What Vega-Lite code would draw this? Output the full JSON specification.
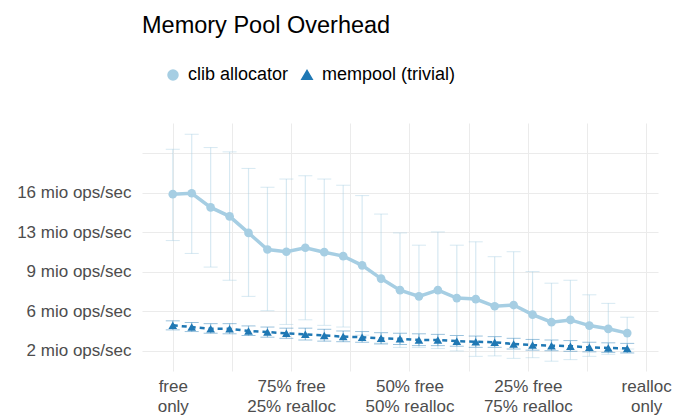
{
  "$schema": "https://vega.github.io/schema/vega-lite/v6.json",
  "autosize": {"type": "none"},
  "width": 516,
  "height": 248,
  "padding": {"left": 142, "top": 123, "right": 16, "bottom": 45},
  "background": "white",
  "title": {"text": "Memory Pool Overhead", "anchor": "start", "frame": "group", "offset": 29, "fontSize": 23.5, "fontWeight": "normal", "font": "Liberation Sans", "color": "#000000"},
  "config": {
    "view": {"stroke": null},
    "font": "Liberation Sans",
    "axis": {"grid": true, "gridColor": "#ebebeb", "gridWidth": 1, "ticks": false, "domain": false, "labelColor": "#4d4d4d", "labelFont": "Liberation Sans", "labelFontSize": 17, "labelOverlap": false}
  },
  "data": {"values": [
    {"series": "clib allocator", "x": 0.00, "mean": 15.89, "lower": 11.77, "upper": 19.87},
    {"series": "clib allocator", "x": 0.04, "mean": 15.97, "lower": 10.63, "upper": 21.20},
    {"series": "clib allocator", "x": 0.08, "mean": 14.71, "lower": 9.42, "upper": 20.02},
    {"series": "clib allocator", "x": 0.12, "mean": 13.92, "lower": 8.25, "upper": 19.64},
    {"series": "clib allocator", "x": 0.16, "mean": 12.45, "lower": 6.82, "upper": 18.17},
    {"series": "clib allocator", "x": 0.20, "mean": 10.98, "lower": 5.55, "upper": 16.50},
    {"series": "clib allocator", "x": 0.24, "mean": 10.78, "lower": 4.33, "upper": 17.23},
    {"series": "clib allocator", "x": 0.28, "mean": 11.13, "lower": 4.74, "upper": 17.52},
    {"series": "clib allocator", "x": 0.32, "mean": 10.74, "lower": 4.25, "upper": 17.23},
    {"series": "clib allocator", "x": 0.36, "mean": 10.39, "lower": 4.10, "upper": 16.68},
    {"series": "clib allocator", "x": 0.40, "mean": 9.57, "lower": 3.38, "upper": 15.76},
    {"series": "clib allocator", "x": 0.44, "mean": 8.40, "lower": 2.68, "upper": 14.12},
    {"series": "clib allocator", "x": 0.48, "mean": 7.37, "lower": 2.29, "upper": 12.45},
    {"series": "clib allocator", "x": 0.52, "mean": 6.82, "lower": 2.28, "upper": 11.36},
    {"series": "clib allocator", "x": 0.56, "mean": 7.37, "lower": 2.20, "upper": 12.54},
    {"series": "clib allocator", "x": 0.60, "mean": 6.67, "lower": 1.98, "upper": 11.36},
    {"series": "clib allocator", "x": 0.64, "mean": 6.58, "lower": 1.50, "upper": 11.66},
    {"series": "clib allocator", "x": 0.68, "mean": 5.94, "lower": 1.54, "upper": 10.34},
    {"series": "clib allocator", "x": 0.72, "mean": 6.05, "lower": 1.32, "upper": 10.78},
    {"series": "clib allocator", "x": 0.76, "mean": 5.20, "lower": 1.38, "upper": 9.02},
    {"series": "clib allocator", "x": 0.80, "mean": 4.53, "lower": 1.07, "upper": 7.99},
    {"series": "clib allocator", "x": 0.84, "mean": 4.73, "lower": 1.21, "upper": 8.25},
    {"series": "clib allocator", "x": 0.88, "mean": 4.23, "lower": 1.50, "upper": 6.96},
    {"series": "clib allocator", "x": 0.92, "mean": 3.94, "lower": 1.68, "upper": 6.20},
    {"series": "clib allocator", "x": 0.96, "mean": 3.56, "lower": 2.15, "upper": 4.97},
    {"series": "mempool (trivial)", "x": 0.00, "mean": 4.25, "lower": 3.85, "upper": 4.65},
    {"series": "mempool (trivial)", "x": 0.04, "mean": 4.10, "lower": 3.70, "upper": 4.50},
    {"series": "mempool (trivial)", "x": 0.08, "mean": 3.95, "lower": 3.55, "upper": 4.40},
    {"series": "mempool (trivial)", "x": 0.12, "mean": 3.95, "lower": 3.50, "upper": 4.40},
    {"series": "mempool (trivial)", "x": 0.16, "mean": 3.75, "lower": 3.35, "upper": 4.20},
    {"series": "mempool (trivial)", "x": 0.20, "mean": 3.65, "lower": 3.20, "upper": 4.10},
    {"series": "mempool (trivial)", "x": 0.24, "mean": 3.55, "lower": 3.10, "upper": 4.00},
    {"series": "mempool (trivial)", "x": 0.28, "mean": 3.45, "lower": 2.95, "upper": 4.00},
    {"series": "mempool (trivial)", "x": 0.32, "mean": 3.35, "lower": 2.85, "upper": 3.90},
    {"series": "mempool (trivial)", "x": 0.36, "mean": 3.25, "lower": 2.80, "upper": 3.75},
    {"series": "mempool (trivial)", "x": 0.40, "mean": 3.20, "lower": 2.75, "upper": 3.70},
    {"series": "mempool (trivial)", "x": 0.44, "mean": 3.10, "lower": 2.60, "upper": 3.60},
    {"series": "mempool (trivial)", "x": 0.48, "mean": 3.05, "lower": 2.55, "upper": 3.55},
    {"series": "mempool (trivial)", "x": 0.52, "mean": 2.95, "lower": 2.45, "upper": 3.50},
    {"series": "mempool (trivial)", "x": 0.56, "mean": 2.95, "lower": 2.45, "upper": 3.45},
    {"series": "mempool (trivial)", "x": 0.60, "mean": 2.85, "lower": 2.40, "upper": 3.35},
    {"series": "mempool (trivial)", "x": 0.64, "mean": 2.80, "lower": 2.30, "upper": 3.30},
    {"series": "mempool (trivial)", "x": 0.68, "mean": 2.75, "lower": 2.30, "upper": 3.25},
    {"series": "mempool (trivial)", "x": 0.72, "mean": 2.60, "lower": 2.15, "upper": 3.10},
    {"series": "mempool (trivial)", "x": 0.76, "mean": 2.50, "lower": 2.05, "upper": 3.00},
    {"series": "mempool (trivial)", "x": 0.80, "mean": 2.45, "lower": 2.00, "upper": 2.95},
    {"series": "mempool (trivial)", "x": 0.84, "mean": 2.40, "lower": 1.95, "upper": 2.90},
    {"series": "mempool (trivial)", "x": 0.88, "mean": 2.30, "lower": 1.90, "upper": 2.75},
    {"series": "mempool (trivial)", "x": 0.92, "mean": 2.25, "lower": 1.85, "upper": 2.70},
    {"series": "mempool (trivial)", "x": 0.96, "mean": 2.20, "lower": 1.80, "upper": 2.65}
  ]},
  "encoding": {
    "x": {"field": "x", "type": "quantitative", "scale": {"domain": [-0.065, 1.025], "nice": false, "zero": false},
      "axis": {"title": null, "labelOverlap": false, "values": [0, 0.125, 0.25, 0.375, 0.5, 0.625, 0.75, 0.875, 1], "labelPadding": 7, "labelLineHeight": 20, "labelBaseline": "top",
        "labelExpr": "datum.value == 0 ? ['free', 'only'] : datum.value == 0.25 ? ['75% free', '25% realloc'] : datum.value == 0.5 ? ['50% free', '50% realloc'] : datum.value == 0.75 ? ['25% free', '75% realloc'] : datum.value == 1 ? ['realloc', 'only'] : ''"}},
    "color": {"field": "series", "type": "nominal", "scale": {"domain": ["clib allocator", "mempool (trivial)"], "range": ["#A6CEE3", "#1F78B4"]},
      "legend": {"orient": "none", "legendX": 22, "legendY": -57, "direction": "horizontal", "title": null, "labelFont": "Liberation Sans", "labelFontSize": 18, "labelColor": "#000000", "symbolSize": 90, "symbolOpacity": 1, "symbolStrokeWidth": 2, "columnPadding": 9, "labelOffset": 6}}
  },
  "layer": [
    {
      "mark": {"type": "errorbar", "opacity": 0.45, "ticks": {"size": 14}, "rule": {"strokeWidth": 1.2}},
      "encoding": {
        "y": {"field": "lower", "type": "quantitative", "scale": {"domain": [0.2, 22.2], "nice": false, "zero": false},
          "axis": {"title": null, "labelOverlap": false, "labelSeparation": 0, "values": [2, 3.75, 5.5, 7.25, 9, 10.75, 12.5, 14.25, 16, 17.75, 19.5], "labelPadding": 11,
            "labelExpr": "datum.value == 2 ? '2 mio ops/sec' : datum.value == 5.5 ? '6 mio ops/sec' : datum.value == 9 ? '9 mio ops/sec' : datum.value == 12.5 ? '13 mio ops/sec' : datum.value == 16 ? '16 mio ops/sec' : ''"}},
        "y2": {"field": "upper"}
      }
    },
    {
      "transform": [{"filter": "datum.series === 'clib allocator'"}],
      "mark": {"type": "line", "strokeWidth": 3.5},
      "encoding": {
        "y": {"field": "mean", "type": "quantitative"}
      }
    },
    {
      "transform": [{"filter": "datum.series === 'mempool (trivial)'"}],
      "mark": {"type": "line", "strokeWidth": 2.5, "strokeDash": [5, 4]},
      "encoding": {
        "y": {"field": "mean", "type": "quantitative"}
      }
    },
    {
      "mark": {"type": "point", "filled": true, "opacity": 1, "size": 75},
      "encoding": {
        "y": {"field": "mean", "type": "quantitative"},
        "shape": {"field": "series", "type": "nominal", "scale": {"domain": ["clib allocator", "mempool (trivial)"], "range": ["circle", "triangle-up"]}}
      }
    }
  ]
}
